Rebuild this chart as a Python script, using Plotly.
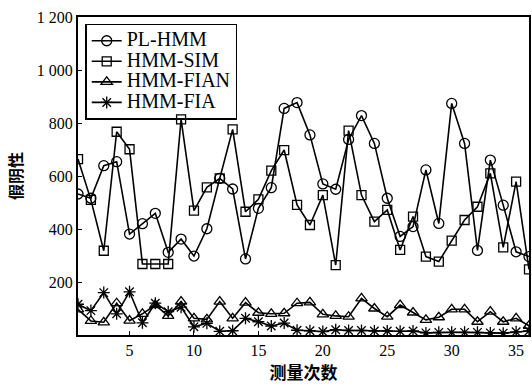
import plotly.graph_objects as go

x = list(range(1, 37))
pl_hmm = [532, 516, 639, 654, 381, 420, 459, 312, 362, 298, 401, 591, 551, 287, 478, 556, 855, 877,
          755, 570, 550, 738, 828, 723, 516, 372, 409, 623, 421, 874, 723, 319, 660, 490, 314, 296]
hmm_sim = [664, 510, 318, 767, 701, 268, 268, 268, 814, 469, 557, 591, 776, 465, 512, 620, 698, 491,
           415, 528, 264, 771, 528, 428, 472, 321, 447, 296, 277, 356, 434, 484, 610, 331, 579, 248]
hmm_fian = [97, 53, 48, 120, 54, 80, 113, 72, 126, 63, 59, 126, 63, 122, 84, 80, 82, 120,
            123, 78, 72, 69, 138, 100, 69, 113, 85, 57, 67, 97, 97, 50, 88, 50, 63, 35]
hmm_fia = [116, 92, 160, 80, 163, 46, 120, 88, 105, 31, 44, 14, 16, 63, 50, 34, 45, 18,
           16, 13, 20, 17, 17, 15, 15, 14, 15, 8, 10, 10, 10, 10, 8, 7, 12, 15]

names = ["PL-HMM", "HMM-SIM", "HMM-FIAN", "HMM-FIA"]
series = [pl_hmm, hmm_sim, hmm_fian, hmm_fia]
symbols = ["circle-open", "square-open", "triangle-up-open", "asterisk-open"]
sizes = [10, 9, 10, 10]

y_ticks = [200, 400, 600, 800, 1000, 1200]
y_ticktext = ["200", "400", "600", "800", "1 000", "1 200"]
x_ticks = [5, 10, 15, 20, 25, 30, 35]

fig = go.Figure()
for n, s, sym, sz in zip(names, series, symbols, sizes):
    fig.add_trace(go.Scatter(
        x=x, y=s, name='<span style="font-size:20px">' + n + '</span>', mode="lines+markers",
        line=dict(color="black", width=1.6),
        marker=dict(symbol=sym, size=sz, color="black", line=dict(color="black", width=1.3)),
    ))

serif = "Liberation Serif, Times New Roman, serif"
cjk = "Noto Sans CJK SC"
fig.update_layout(
    width=532, height=385,
    margin=dict(l=78, r=1, t=17, b=50),
    paper_bgcolor="white", plot_bgcolor="white",
    font=dict(family=serif, size=16, color="black"),
    showlegend=True,
    legend=dict(
        x=0.016, y=0.978, xanchor="left", yanchor="top",
        bordercolor="black", borderwidth=1.5, bgcolor="rgba(255,255,255,0)",
        font=dict(family=serif, size=13.5, color="black"),
        tracegroupgap=0, itemwidth=30,
    ),
    xaxis=dict(
        range=[1, 36], tickvals=x_ticks, ticks="inside", ticklen=4,
        tickcolor="black", showline=True, linecolor="black", linewidth=2,
        mirror=True, showgrid=False, zeroline=False,
        tickfont=dict(family=serif, size=16),
        title=dict(text="<b>测量次数</b>", font=dict(family=cjk, size=17), standoff=4),
    ),
    yaxis=dict(
        range=[0, 1200], tickvals=y_ticks, ticktext=y_ticktext, ticks="inside", ticklen=4,
        tickcolor="black", showline=True, linecolor="black", linewidth=2,
        mirror=True, showgrid=False, zeroline=False,
        tickfont=dict(family=serif, size=16),
        title=dict(text="<b>假阴性</b>", font=dict(family=cjk, size=16), standoff=10),
    ),
)

fig.write_html(
    "out.html",
    config={"displayModeBar": False},
    post_script="document.body.style.margin='0';document.body.style.overflow='hidden';",
)
